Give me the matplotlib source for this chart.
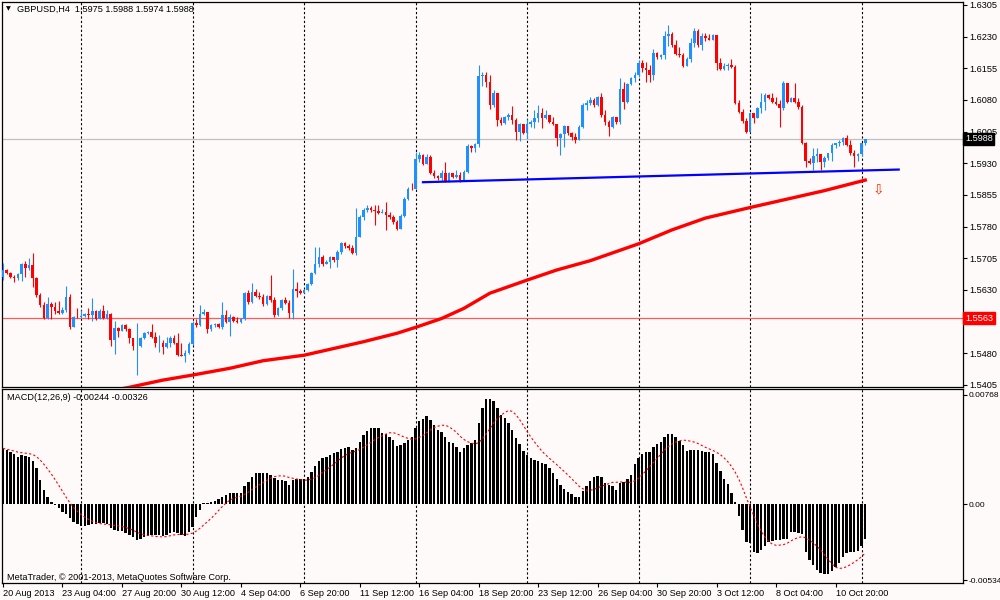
import numpy as np
import pandas as pd
import matplotlib
matplotlib.use("Agg")
import matplotlib.pyplot as plt
import matplotlib.transforms as mtransforms

# GBPUSD H4, prices in pips (1e-4)
first_open = 15661
closes = [
    15677, 15671, 15660, 15658, 15668, 15691, 15682, 15689, 15657, 15617,
    15595, 15563, 15596, 15590, 15579, 15574, 15582, 15614, 15543, 15566,
    15565, 15568, 15573, 15571, 15579, 15562, 15579, 15563, 15573, 15510,
    15540, 15533, 15546, 15536, 15515, 15497, 15498, 15515, 15528, 15530,
    15519, 15503, 15505, 15495, 15503, 15517, 15505, 15476, 15473, 15481,
    15502, 15551, 15547, 15573, 15577, 15536, 15546, 15549, 15541, 15570,
    15554, 15565, 15557, 15554, 15562, 15623, 15601, 15625, 15615, 15613,
    15596, 15615, 15605, 15570, 15586, 15605, 15599, 15575, 15633, 15628,
    15623, 15629, 15643, 15669, 15692, 15708, 15692, 15696, 15707, 15700,
    15719, 15741, 15733, 15730, 15718, 15756, 15803, 15820, 15825, 15819,
    15817, 15812, 15815, 15807, 15803, 15791, 15775, 15805, 15846, 15870,
    15868, 15939, 15949, 15929, 15945, 15907, 15899, 15894, 15907, 15887,
    15906, 15898, 15902, 15890, 15910, 15970, 15965, 15975, 16137, 16139,
    16123, 16068, 16096, 16032, 16026, 16039, 16044, 16032, 16005, 16023,
    16002, 16023, 16028, 16036, 16050, 16036, 16044, 16028, 16024, 15989,
    15999, 16018, 16001, 15993, 15986, 16015, 16068, 16073, 16080, 16068,
    16086, 16044, 16028, 16015, 16039, 16028, 16107, 16076, 16118, 16131,
    16139, 16167, 16155, 16151, 16139, 16192, 16181, 16186, 16231, 16236,
    16210, 16190, 16186, 16160, 16178, 16216, 16244, 16210, 16231, 16226,
    16223, 16234, 16167, 16153, 16161, 16163, 16159, 16072, 16052, 16029,
    16005, 16048, 16037, 16060, 16076, 16092, 16084, 16076, 16071, 16060,
    16121, 16076, 16084, 16076, 16063, 15977, 15936, 15930, 15946, 15952,
    15934, 15942, 15954, 15973, 15977, 15981, 15989, 15973, 15954, 15947,
    15952, 15977, 15988,
]
highs = [
    15693, 15680, 15673, 15665, 15671, 15694, 15699, 15705, 15717, 15661,
    15623, 15600, 15612, 15600, 15602, 15604, 15590, 15638, 15620, 15568,
    15586, 15582, 15576, 15586, 15610, 15582, 15584, 15594, 15582, 15574,
    15555, 15543, 15549, 15549, 15539, 15515, 15551, 15519, 15531, 15532,
    15549, 15531, 15523, 15510, 15519, 15521, 15523, 15527, 15505, 15487,
    15507, 15555, 15562, 15594, 15584, 15578, 15549, 15552, 15551, 15602,
    15581, 15573, 15568, 15566, 15564, 15626, 15629, 15645, 15631, 15625,
    15620, 15617, 15665, 15613, 15590, 15609, 15612, 15607, 15680, 15649,
    15633, 15633, 15647, 15673, 15732, 15732, 15712, 15700, 15710, 15708,
    15724, 15744, 15744, 15738, 15736, 15825, 15807, 15825, 15831, 15828,
    15831, 15831, 15822, 15838, 15815, 15807, 15795, 15809, 15850, 15874,
    15883, 15957, 15957, 15953, 15953, 15949, 15914, 15902, 15914, 15933,
    15910, 15907, 15914, 15910, 15914, 15975, 15973, 15977, 16163, 16147,
    16147, 16139, 16103, 16097, 16040, 16042, 16048, 16065, 16036, 16026,
    16024, 16034, 16032, 16056, 16068, 16060, 16056, 16044, 16040, 16024,
    16001, 16020, 16015, 16005, 16001, 16020, 16072, 16080, 16086, 16084,
    16089, 16096, 16056, 16032, 16042, 16040, 16131, 16123, 16121, 16135,
    16147, 16175, 16175, 16171, 16163, 16200, 16194, 16190, 16244, 16257,
    16242, 16223, 16206, 16192, 16181, 16226, 16250, 16247, 16238, 16238,
    16236, 16236, 16234, 16179, 16167, 16167, 16176, 16163, 16080, 16058,
    16037, 16052, 16050, 16064, 16096, 16097, 16094, 16097, 16088, 16080,
    16124, 16120, 16088, 16120, 16084, 16068, 15981, 15942, 15966, 15966,
    15946, 15946, 15955, 15977, 15979, 15984, 15993, 15997, 15985, 15962,
    15955, 15979, 15988,
]
lows = [
    15653, 15668, 15657, 15649, 15653, 15652, 15660, 15677, 15636, 15614,
    15590, 15562, 15562, 15562, 15573, 15573, 15573, 15578, 15536, 15541,
    15563, 15563, 15566, 15562, 15555, 15559, 15561, 15560, 15561, 15497,
    15479, 15519, 15533, 15532, 15503, 15487, 15428, 15495, 15513, 15525,
    15515, 15495, 15483, 15479, 15491, 15495, 15502, 15474, 15472, 15460,
    15479, 15500, 15541, 15544, 15571, 15527, 15533, 15543, 15539, 15536,
    15551, 15521, 15554, 15551, 15552, 15559, 15597, 15599, 15612, 15609,
    15591, 15594, 15601, 15566, 15568, 15582, 15596, 15564, 15562, 15613,
    15620, 15623, 15628, 15641, 15667, 15684, 15686, 15691, 15681, 15696,
    15684, 15714, 15730, 15724, 15714, 15712, 15754, 15795, 15814, 15815,
    15783, 15809, 15811, 15771, 15799, 15787, 15771, 15779, 15803, 15842,
    15866, 15870, 15933, 15925, 15928, 15904, 15896, 15890, 15888, 15885,
    15885, 15894, 15896, 15886, 15888, 15907, 15956, 15957, 15969, 16113,
    16111, 16058, 16064, 16018, 16020, 16024, 16032, 16024, 15986, 15983,
    15999, 15989, 16017, 16013, 16028, 16013, 16034, 16026, 16020, 15971,
    15949, 15969, 15997, 15985, 15977, 15985, 16013, 16056, 16068, 16064,
    16065, 16040, 16020, 15994, 16013, 16024, 16024, 16058, 16072, 16115,
    16123, 16135, 16147, 16123, 16123, 16127, 16178, 16176, 16178, 16208,
    16206, 16186, 16182, 16159, 16160, 16171, 16206, 16206, 16198, 16220,
    16222, 16222, 16151, 16151, 16151, 16151, 16155, 16071, 16048, 16025,
    16001, 16003, 16025, 16037, 16048, 16056, 16082, 16072, 16068, 16017,
    16056, 16072, 16074, 16072, 16058, 15976, 15921, 15928, 15914, 15934,
    15914, 15922, 15938, 15936, 15966, 15971, 15973, 15970, 15950, 15921,
    15936, 15947, 15974,
]

# MACD(12,26,9) main line, in 1e-5
macd_e5 = [
    391, 379, 368, 351, 333, 342, 337, 328, 304, 251,
    169, 98, 52, 16, -7, -30, -54, -70, -101, -124,
    -141, -152, -152, -148, -141, -141, -136, -136, -141, -171,
    -183, -187, -187, -201, -218, -234, -253, -248, -230, -225,
    -220, -220, -220, -225, -218, -201, -194, -206, -218, -225,
    -194, -159, -94, -42, 5, 5, 14, 23, 33, 52,
    63, 80, 80, 80, 75, 126, 157, 192, 215, 220,
    220, 215, 204, 180, 169, 169, 164, 133, 169, 173,
    173, 173, 192, 227, 267, 304, 321, 333, 344, 356,
    368, 384, 391, 398, 379, 391, 438, 485, 515, 532,
    532, 532, 501, 492, 473, 450, 408, 415, 426, 450,
    473, 532, 586, 595, 618, 590, 555, 520, 508, 473,
    438, 426, 403, 368, 391, 415, 426, 450, 567, 672,
    735, 735, 726, 672, 625, 602, 571, 520, 461, 422,
    375, 344, 321, 309, 302, 290, 281, 251, 215, 173,
    131, 103, 87, 70, 47, 47, 91, 126, 164, 192,
    199, 187, 150, 133, 126, 98, 145, 157, 173, 204,
    281, 321, 351, 368, 368, 398, 422, 438, 468, 492,
    492, 468, 445, 415, 375, 379, 379, 379, 375, 368,
    368, 351, 290, 234, 173, 141, 75, 14, -84, -183,
    -265, -276, -335, -342, -323, -293, -265, -258, -253, -253,
    -248, -248, -194, -194, -206, -211, -335, -393, -429, -464,
    -482, -492, -492, -468, -440, -412, -370, -342, -335, -335,
    -328, -295, -244,
]

# moving average (thick red), read at these bars
ma_bars = [28, 34, 43, 51, 61, 70, 81, 88, 97, 106, 111, 118, 124, 131,
           141, 149, 158, 171, 180, 189, 201, 212, 221, 232]
ma_pips = [15389, 15399, 15416, 15428, 15444, 15462, 15475, 15489, 15507,
           15527, 15541, 15562, 15586, 15622, 15653, 15677, 15699, 15739,
           15772, 15800, 15825, 15847, 15865, 15890]

trend_bars = [113, 241]
trend_prices = [1.5885, 1.5915]
level_price = 1.5563
bid_price = 1.5988
arrow_bar, arrow_price = 235.5, 1.5867

time_labels = ["20 Aug 2013", "23 Aug 04:00", "27 Aug 20:00", "30 Aug 12:00",
               "4 Sep 04:00", "6 Sep 20:00", "11 Sep 12:00", "16 Sep 04:00",
               "18 Sep 20:00", "23 Sep 12:00", "26 Sep 04:00", "30 Sep 20:00",
               "3 Oct 12:00", "8 Oct 04:00", "10 Oct 20:00"]
price_ticks = [1.6305, 1.6230, 1.6155, 1.6080, 1.6005, 1.5930, 1.5855,
               1.5780, 1.5705, 1.5630, 1.5480, 1.5405]
macd_ticks = [0.00768, 0.0, -0.00534]
macd_tick_labels = ["0.00768", "0.00", "-0.00534"]

plt.rcParams['font.family'] = ['Liberation Sans', 'DejaVu Sans']
bg = "#fffafa"
fs = 6.6

c = np.array(closes) / 10000.0
o = np.concatenate([[first_open / 10000.0], c[:-1]])
h = np.maximum(np.array(highs) / 10000.0, np.maximum(o, c))
l = np.minimum(np.array(lows) / 10000.0, np.minimum(o, c))
n = len(c)
x = np.arange(n)
up = c >= o
colors = np.where(up, "#1e90ff", "#ff0000")

macd = np.array(macd_e5) / 100000.0
signal = pd.Series(macd).rolling(9, min_periods=1).mean().values

fig = plt.figure(figsize=(10, 6), dpi=100, facecolor=bg)
ax = fig.add_axes([0.002, 0.355, 0.961, 0.6417], facecolor=bg)
ax2 = fig.add_axes([0.002, 0.0283, 0.961, 0.3234], facecolor=bg)
xlim = (-0.27, 258.3)

# week separators
week_bars = np.arange(21, n, 30)
for a in (ax, ax2):
    for wb in week_bars:
        a.axvline(wb + 0.1, color="black", lw=0.8, ls=(0, (2, 2)), zorder=1)
    for s in a.spines.values():
        s.set_linewidth(0.9)
        s.set_color("black")
    a.set_xlim(*xlim)

# price panel
ax.axhline(level_price, color="#ff5a5a", lw=0.9, zorder=2)
ax.axhline(bid_price, color="#c0c0c0", lw=0.9, zorder=2)
ax.vlines(x, l, h, colors=colors, lw=0.8, zorder=3)
flat = np.abs(c - o) < 0.00006
body = np.where(flat, 0.00006, c - o)
ax.bar(x, body, bottom=np.where(flat, o - 0.00003, o),
       width=0.7, color=colors, linewidth=0, zorder=4)
ax.plot(ma_bars, np.array(ma_pips) / 10000.0, color="#ff0000", lw=2.4,
        zorder=5, solid_joinstyle="round")
ax.plot(trend_bars, trend_prices, color="#0000ff", lw=1.6, zorder=5)
ax.text(arrow_bar, arrow_price, "\u21e9", color="#ff3300", fontsize=10,
        ha="center", va="center", family="DejaVu Sans", zorder=6)

ax.set_ylim(1.53997, 1.63121)
ax.yaxis.tick_right()
ax.set_yticks(price_ticks)
ax.set_yticklabels(["%.4f" % p for p in price_ticks])
ax.tick_params(axis="y", labelsize=fs, length=3, width=0.8, pad=1.5)
ax.set_xticks([])

tr = mtransforms.blended_transform_factory(ax.transAxes, ax.transData)
ax.text(1.002, bid_price, "%.4f" % bid_price, transform=tr, color="white",
        fontsize=fs, ha="left", va="center",
        bbox=dict(facecolor="black", edgecolor="black", pad=1.2), zorder=10)
ax.text(1.002, level_price, "%.4f" % level_price, transform=tr, color="white",
        fontsize=fs, ha="left", va="center",
        bbox=dict(facecolor="#ff0000", edgecolor="#ff0000", pad=1.2), zorder=10)

fig.text(0.0055, 1 - 9 / 600, "\u25bc", fontsize=4.5, va="center",
         family="DejaVu Sans")
fig.text(0.017, 1 - 9 / 600, "GBPUSD,H4  %.4f %.4f %.4f %.4f"
         % (o[-1] - 0.0002, h[-1], l[-1], c[-1]), fontsize=fs, va="center")

# MACD panel
ax2.bar(x, macd, width=0.65, color="black", linewidth=0, zorder=3)
ax2.plot(x, signal, color="#ff0000", lw=0.8, ls=(0, (2, 2)), zorder=4)
ax2.set_ylim(-0.005551, 0.008080)
ax2.yaxis.tick_right()
ax2.set_yticks(macd_ticks)
ax2.set_yticklabels(macd_tick_labels)
ax2.tick_params(axis="y", labelsize=6.0, length=3, width=0.8, pad=1.0)
ax2.set_xticks(np.arange(0, n, 16)[:len(time_labels)])
ax2.set_xticklabels(time_labels, ha="left")
ax2.tick_params(axis="x", labelsize=fs, length=3, width=0.8, pad=1.5)
ax2.text(0.005, 0.955, "MACD(12,26,9) %.5f %.5f" % (macd[-1], -0.00326),
         transform=ax2.transAxes, fontsize=fs, va="center")
ax2.text(0.005, 0.03, "MetaTrader, \u00a9 2001-2013, MetaQuotes Software Corp.",
         transform=ax2.transAxes, fontsize=fs, va="center")

fig.savefig("out.png", dpi=100, facecolor=bg)
